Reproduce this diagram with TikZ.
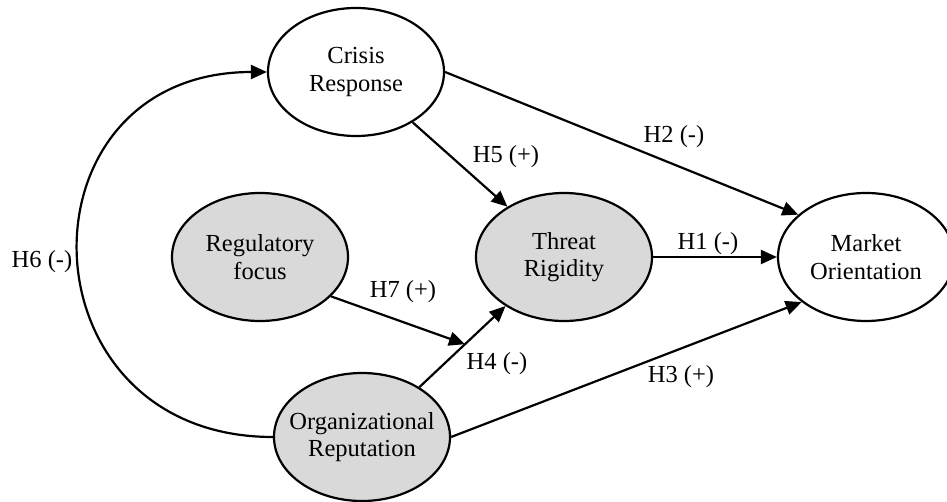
\documentclass[tikz,border=0pt]{standalone}
\usepackage{fontspec}
\setmainfont{Liberation Serif}
\usetikzlibrary{arrows.meta,calc,shapes.geometric}
\definecolor{latentgray}{HTML}{D9D9D9}
\begin{document}
\begin{tikzpicture}[x=1pt,y=1pt,
  txt/.style={font=\fontsize{24.5}{27.5}\selectfont},
  construct/.style={ellipse,draw,line width=2.2pt,minimum width=176pt,
    minimum height=128pt,inner sep=0pt},
  caption/.style={label={[txt,align=center]center:#1}},
  latentnode/.style={construct,fill=latentgray},
  hyp/.style={line width=2.2pt,-{Triangle[length=16pt,width=14pt]}},
  hlabel/.style={txt,inner sep=0pt}]
\useasboundingbox (0,0) rectangle (947,501);

% constructs
\node[construct,caption={Crisis\\Response}] (crisis) at (356,429) {};
\node[latentnode,caption={Regulatory\\focus}] (reg) at (260,244) {};
\node[latentnode,caption={Threat\\Rigidity}] (threat) at (564,244) {};
\node[construct,caption={Market\\Orientation}] (market) at (866,244) {};
\node[latentnode,caption={Organizational\\Reputation}] (org) at (362,64) {};

% hypothesised paths
\draw[hyp] (threat.east) -- (market.west);
\draw[hyp] (crisis.east) -- (market.148);
\draw[hyp] (crisis) -- (threat);
\draw[hyp] (org.east) -- (market.215);
\draw[hyp] (org.41) -- (threat.220);
\coordinate (mod) at ($(org.41)!0.53!(threat.220)$);
\draw[hyp] (reg.-29) -- (mod);
\draw[hyp] (org.west) .. controls +(-255,0) and +(-255,0) .. (crisis.west);

% path labels
\node[hlabel] (h1) at (708,257) {H1 (-)};
\node[hlabel] (h2) at (674,364) {H2 (-)};
\node[hlabel] (h3) at (681,124) {H3 (+)};
\node[hlabel] (h4) at (497,137) {H4 (-)};
\node[hlabel] (h5) at (506,344) {H5 (+)};
\node[hlabel] (h6) at (42,239) {H6 (-)};
\node[hlabel] (h7) at (403,209) {H7 (+)};
\end{tikzpicture}
\end{document}
